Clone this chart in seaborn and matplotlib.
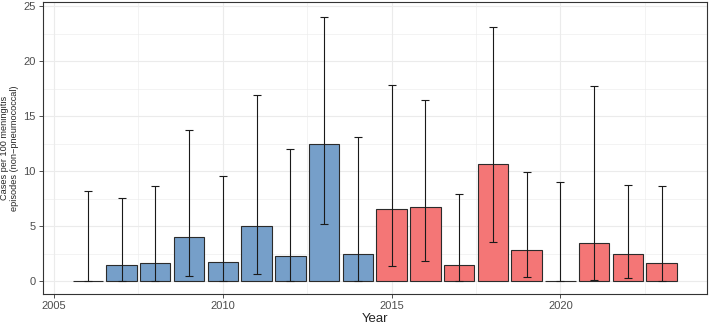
import matplotlib.pyplot as plt
import pandas as pd
import seaborn as sns
from matplotlib.ticker import MultipleLocator

years = list(range(2006, 2024))
rate = [0.0, 1.42, 1.63, 3.98, 1.78, 5.0, 2.29, 12.48, 2.5,
        6.51, 6.75, 1.45, 10.62, 2.86, 0.0, 3.44, 2.5, 1.63]
lower = [0.0, 0.0, 0.0, 0.48, 0.0, 0.6, 0.0, 5.16, 0.0,
         1.36, 1.87, 0.0, 3.53, 0.36, 0.0, 0.06, 0.3, 0.0]
upper = [8.2, 7.57, 8.65, 13.69, 9.56, 16.89, 12.0, 24.03, 13.12,
         17.85, 16.47, 7.93, 23.07, 9.92, 9.02, 17.73, 8.75, 8.65]
period = ["pre"] * 9 + ["post"] * 9

df = pd.DataFrame({"year": years, "rate": rate, "lower": lower, "upper": upper, "period": period})

sns.set_theme(style="white")
plt.rcParams["font.family"] = ["Liberation Sans", "DejaVu Sans"]

fig = plt.figure(figsize=(7.09, 3.27), dpi=100)
ax = fig.add_axes([0.060, 0.100, 0.937, 0.895])

sns.barplot(
    data=df, x="year", y="rate", hue="period", native_scale=True, dodge=False,
    palette={"pre": "#769fc9", "post": "#f47676"}, width=0.9, saturation=1,
    edgecolor="#2b2b2b", linewidth=0.8, legend=False, ax=ax, zorder=2,
)
ax.errorbar(
    df["year"], df["rate"],
    yerr=[df["rate"] - df["lower"], df["upper"] - df["rate"]],
    fmt="none", ecolor="#1a1a1a", elinewidth=0.8, capsize=3, capthick=0.8, zorder=3,
)

ax.set_xlim(2004.66, 2024.34)
ax.set_ylim(-1.2, 25.4)
ax.xaxis.set_major_locator(MultipleLocator(5))
ax.xaxis.set_minor_locator(MultipleLocator(2.5))
ax.yaxis.set_major_locator(MultipleLocator(5))
ax.yaxis.set_minor_locator(MultipleLocator(2.5))
ax.grid(which="major", color="#ebebeb", linewidth=0.8, zorder=0)
ax.grid(which="minor", color="#ebebeb", linewidth=0.4, zorder=0)
ax.set_axisbelow(True)
for s in ax.spines.values():
    s.set_color("#333333")
    s.set_linewidth(0.8)
ax.tick_params(which="major", length=3, width=0.6, color="#333333", labelsize=8,
               labelcolor="#4d4d4d", pad=2, bottom=True, left=True)
ax.tick_params(which="minor", length=0)

ax.set_xlabel("Year", fontsize=9.5, labelpad=1)
ax.set_ylabel("Cases per 100 meningitis\nepisodes (non\u2212pneumococcal)", fontsize=6.6, labelpad=3)

fig.savefig("out.png", dpi=100)
